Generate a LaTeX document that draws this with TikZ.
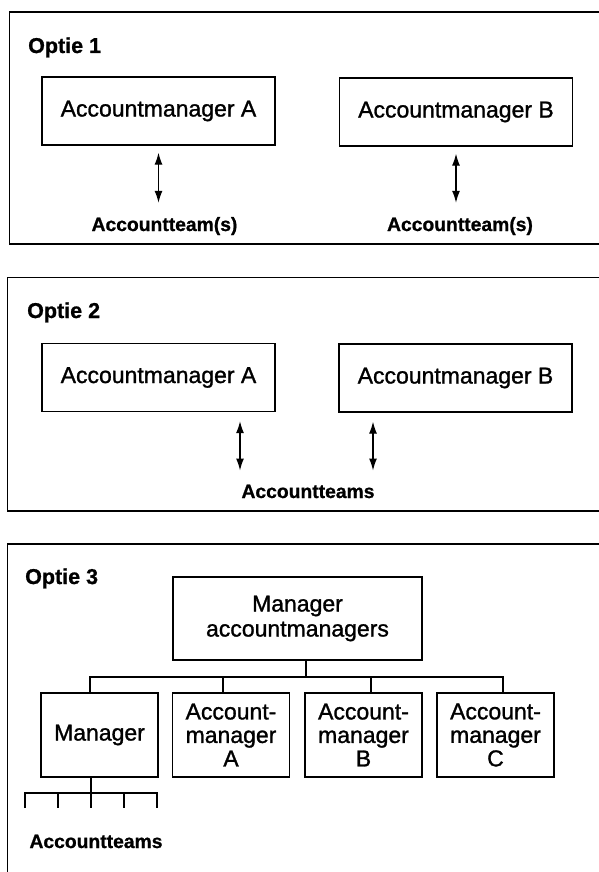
\documentclass[tikz,border=0pt]{standalone}
\usepackage{fontspec}
\setmainfont{Liberation Sans}
\newfontfamily\heavyfont[FakeBold=1.2]{Liberation Sans}
\newfontfamily\heavybold[FakeBold=0.9]{Liberation Sans Bold}
\usetikzlibrary{arrows.meta}
\begin{document}
\begin{tikzpicture}[x=1pt,y=-1pt,
  panel/.style={line width=1.5pt},
  box/.style={draw,line width=1.3pt,inner sep=0pt,align=center},
  wide/.style={box,minimum width=233pt,minimum height=68pt,
    font=\heavyfont\fontsize{23}{25}\selectfont},
  top/.style={box,minimum width=249pt,minimum height=83pt,
    font=\heavyfont\fontsize{23}{25}\selectfont},
  small/.style={box,minimum width=117pt,minimum height=84pt,
    font=\heavyfont\fontsize{23}{23.5}\selectfont},
  title/.style={anchor=base west,inner sep=0pt,
    font=\heavybold\fontsize{21.5}{24}\selectfont},
  label/.style={anchor=base,inner sep=0pt,
    font=\heavybold\fontsize{19.3}{22}\selectfont},
  link/.style={line width=1.2pt},
  both/.style={line width=1.3pt,
    {Latex[length=12pt,width=8pt]}-{Latex[length=12pt,width=8pt]}}
]
\useasboundingbox (0,0) rectangle (599,872);
\clip (0,0) rectangle (599,872);
\fill[white] (0,0) rectangle (599,872);

% ---------- Optie 1 ----------
\draw[panel] (9.5,12) rectangle (620,244);
\node[title] (o1) at (28,53) {Optie 1};
\node[wide] (a1) at (158.5,111) {Accountmanager A};
\node[wide] (b1) at (456,112) {Accountmanager B};
\node[label] (ta1) at (164.5,231) {Accountteam(s)};
\node[label] (tb1) at (460,231) {Accountteam(s)};
\draw[both,shorten <=7pt,shorten >=14pt] (a1.south) -- (a1.south |- ta1.north);
\draw[both,shorten <=7pt,shorten >=14pt] (b1.south) -- (b1.south |- tb1.north);

% ---------- Optie 2 ----------
\draw[panel] (7.5,277.5) rectangle (620,511);
\node[title] (o2) at (27,318) {Optie 2};
\node[wide] (a2) at (158.5,377.5) {Accountmanager A};
\node[wide] (b2) at (455.5,378) {Accountmanager B};
\node[label] (t2) at (308,498) {Accountteams};
\draw[both,shorten <=9pt,shorten >=14pt]
  ([xshift=81.5pt]a2.south) -- ([xshift=81.5pt]a2.south |- t2.north);
\draw[both,shorten <=9pt,shorten >=14pt]
  ([xshift=-82.5pt]b2.south) -- ([xshift=-82.5pt]b2.south |- t2.north);

% ---------- Optie 3 ----------
\draw[panel] (7.5,900) -- (7.5,544) -- (620,544);
\node[title] (o3) at (25,584) {Optie 3};
\node[top] (mam) at (297.5,618.5) {Manager\\accountmanagers};
\node[small] (mgr) at (99.5,735) {Manager};
\node[small] (ama) at (231,735) {Account-\\manager\\A};
\node[small] (amb) at (363.5,735) {Account-\\manager\\B};
\node[small] (amc) at (495.5,735) {Account-\\manager\\C};
\coordinate (bus) at (306,677);
\draw[link] (mam.south -| bus) -- (bus);
\draw[link] ([xshift=-9.5pt]mgr.north) |- (bus) -| ([xshift=7.5pt]amc.north);
\draw[link] ([xshift=-8pt]ama.north) -- ([xshift=-8pt]ama.north |- bus);
\draw[link] ([xshift=7.5pt]amb.north) -- ([xshift=7.5pt]amb.north |- bus);

% teams under the manager
\coordinate (comb) at (91,793);
\draw[link] ([xshift=-8.5pt]mgr.south) -- (comb);
\draw[link] (25,808) -- (25,793) -- (157,793) -- (157,808);
\foreach \x in {58,91,124}
  \draw[link] (\x,793) -- (\x,808);
\node[label] (t3) at (96,848) {Accountteams};
\end{tikzpicture}
\end{document}
